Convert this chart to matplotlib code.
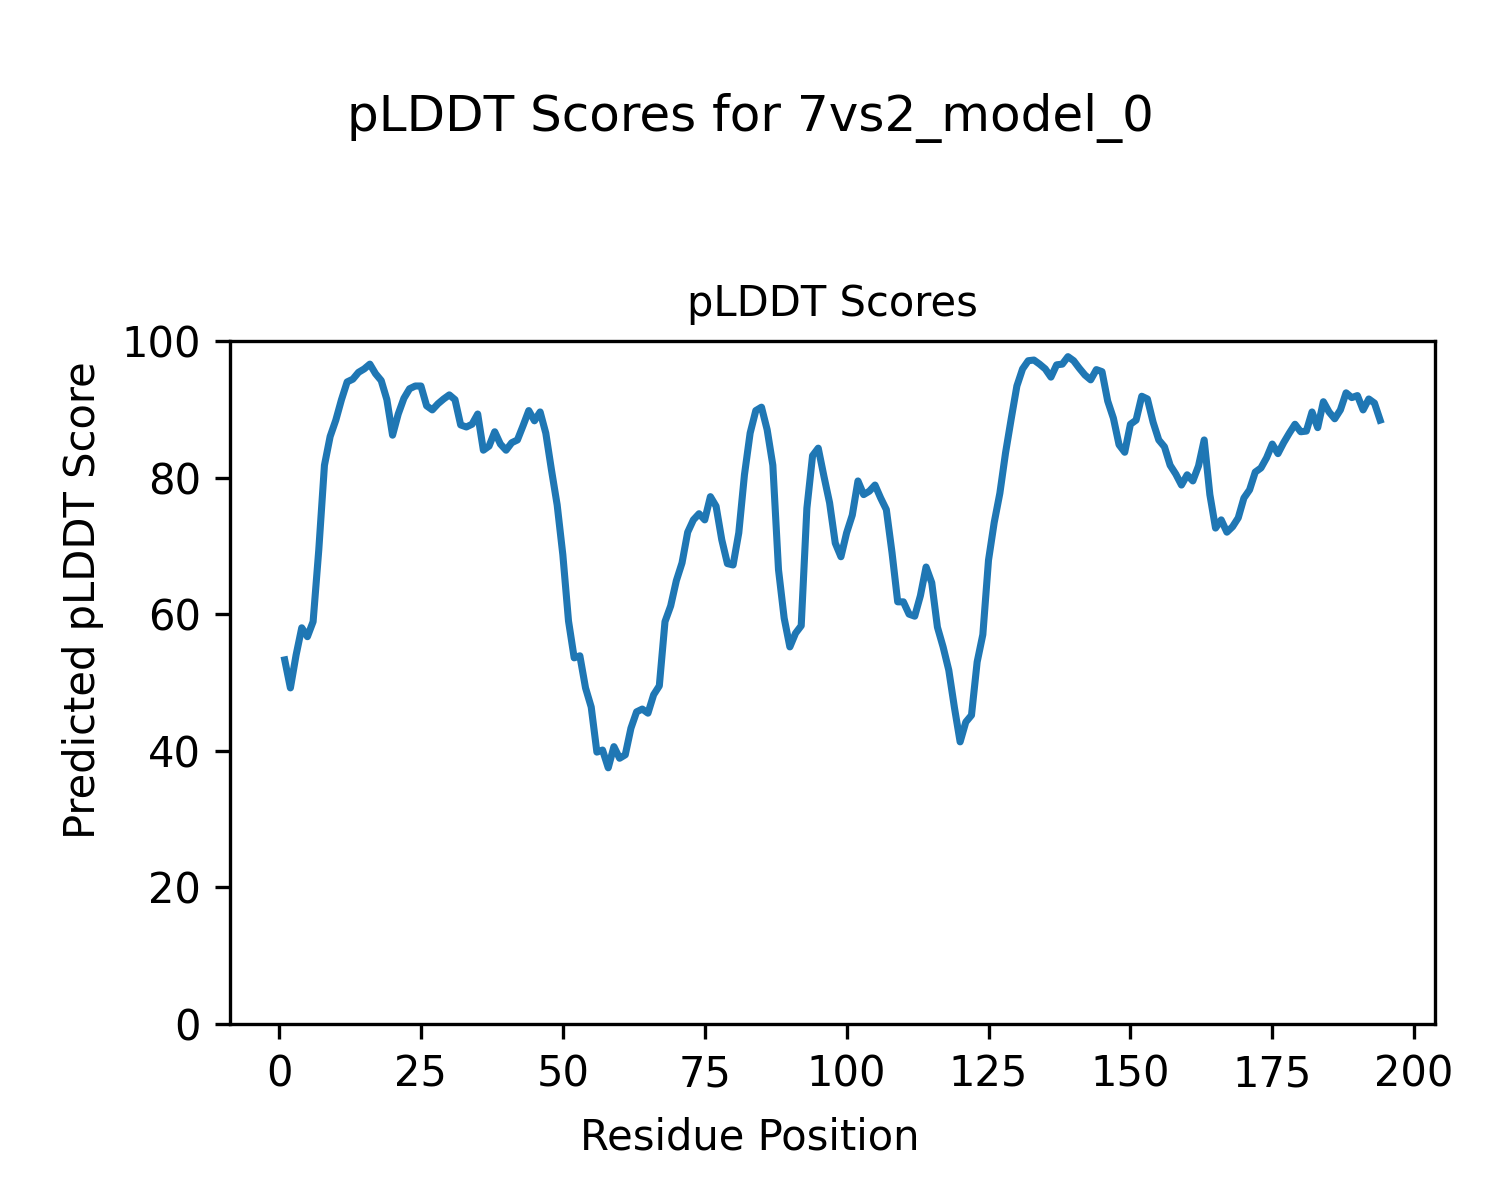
import matplotlib
matplotlib.use("Agg")
import matplotlib.pyplot as plt
import numpy as np

# residue positions and pLDDT values
residues = np.arange(1, 195)
plddt = [
    53.3, 49.2, 54.0, 58.0, 56.7, 58.9, 69.4, 81.8, 86.0, 88.4,
    91.4, 94.0, 94.4, 95.4, 95.9, 96.6, 95.2, 94.2, 91.4, 86.2,
    89.3, 91.6, 93.0, 93.4, 93.4, 90.5, 89.9, 90.8, 91.5, 92.1,
    91.4, 87.7, 87.4, 87.8, 89.3, 84.0, 84.6, 86.7, 84.9, 84.0,
    85.1, 85.5, 87.6, 89.8, 88.3, 89.6, 86.5, 81.1, 76.0, 68.7,
    59.0, 53.6, 53.9, 49.2, 46.4, 39.8, 40.1, 37.5, 40.6, 38.9,
    39.4, 43.3, 45.7, 46.1, 45.5, 48.2, 49.5, 58.9, 61.2, 64.9,
    67.5, 72.0, 73.8, 74.7, 73.8, 77.2, 75.8, 70.9, 67.4, 67.2,
    71.9, 80.4, 86.5, 89.8, 90.3, 87.0, 81.8, 66.5, 59.4, 55.2,
    57.2, 58.3, 75.5, 83.2, 84.3, 80.2, 76.3, 70.4, 68.4, 71.9,
    74.5, 79.5, 77.5, 78.0, 78.9, 77.0, 75.3, 69.0, 61.8, 61.8,
    60.0, 59.7, 62.7, 66.9, 64.6, 58.1, 55.2, 51.8, 46.3, 41.3,
    44.2, 45.2, 53.0, 57.0, 67.9, 73.4, 77.7, 83.6, 88.6, 93.4,
    95.9, 97.1, 97.2, 96.6, 95.9, 94.7, 96.5, 96.6, 97.7, 97.1,
    96.0, 95.0, 94.3, 95.8, 95.5, 91.2, 88.7, 84.8, 83.7, 87.8,
    88.4, 91.9, 91.5, 88.1, 85.5, 84.5, 81.8, 80.5, 78.9, 80.4,
    79.5, 81.7, 85.5, 77.5, 72.6, 73.8, 72.0, 72.8, 74.1, 77.0,
    78.2, 80.8, 81.4, 82.9, 84.9, 83.5, 85.1, 86.5, 87.8, 86.7,
    86.8, 89.6, 87.3, 91.1, 89.6, 88.6, 89.9, 92.4, 91.7, 92.0,
    89.9, 91.5, 90.9, 88.4,
]

fig = plt.figure(figsize=(5, 4), dpi=300)
ax = fig.add_axes([0.1533, 0.1467, 0.8033, 0.5692])

ax.plot(residues, plddt, color="#1f77b4", linewidth=1.7)

ax.set_ylim(0, 100)
ax.set_title("pLDDT Scores", fontsize=10)
ax.tick_params(labelsize=10)

# figure-level title and axis labels
fig.suptitle("pLDDT Scores for 7vs2_model_0", fontsize=12, y=0.902, va="center")
fig.supxlabel("Residue Position", fontsize=10, y=0.0517, va="center")
fig.supylabel("Predicted pLDDT Score", fontsize=10, x=0.0413, va="center")

fig.savefig("out.png", dpi=300)
